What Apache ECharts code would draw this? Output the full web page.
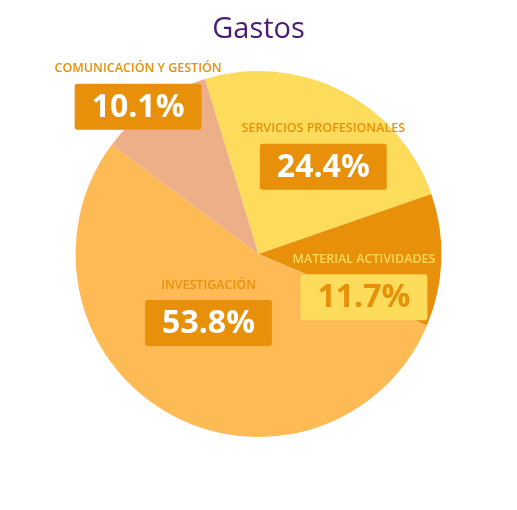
<!DOCTYPE html>
<html><head><meta charset="utf-8">
<script src="https://cdn.jsdelivr.net/npm/echarts@6/dist/echarts.min.js"></script>
<style>html,body{margin:0;padding:0;background:#fff}#c{width:517px;height:510px}</style>
</head><body><div id="c"></div>
<script>
const categories = ['SERVICIOS PROFESIONALES', 'MATERIAL ACTIVIDADES', 'INVESTIGACIÓN', 'COMUNICACIÓN Y GESTIÓN'];
const values = [24.4, 11.7, 53.8, 10.1];
const sliceColors = ['#FEDC5B', '#E8900A', '#FDBA55', '#EDAF88'];
const labelShift = [[22, -24], [11, 19], [-3, -34], [-66, -91]];

const chart = echarts.init(document.getElementById('c'));
const data = categories.map((n, i) => {
  const isMat = i === 1;
  return {
    name: n, value: values[i],
    itemStyle: { color: sliceColors[i] },
    label: {
      rich: {
        n: { color: isMat ? '#FEDC5B' : '#E8900A', fontSize: 12.5, fontWeight: 600, fontFamily: 'Open Sans', lineHeight: 42, align: 'center' },
        p: { color: isMat ? '#E8900A' : '#ffffff', backgroundColor: isMat ? '#FEDC5B' : '#E8900A',
             fontSize: 32, fontWeight: 'bold', fontFamily: 'Open Sans', lineHeight: 34,
             padding: [8, 17, 6, 17], borderRadius: 3, align: 'center' }
      }
    }
  };
});
chart.setOption({
  animation: false,
  title: { text: 'Gastos', left: 'center', top: 10,
    textStyle: { color: '#4B1A72', fontSize: 29, fontWeight: 500, fontFamily: 'Open Sans' } },
  series: [{
    type: 'pie',
    center: [258.5, 254],
    radius: 183,
    startAngle: 107,
    clockwise: true,
    data: data,
    label: {
      show: true, position: 'inside',
      formatter: p => '{n|' + p.name + '}\n{p|' + p.value.toFixed(1) + '%}'
    },
    labelLine: { show: false },
    labelLayout: p => ({ dx: labelShift[p.dataIndex][0], dy: labelShift[p.dataIndex][1] }),
    emphasis: { disabled: true }
  }]
});
</script></body></html>
